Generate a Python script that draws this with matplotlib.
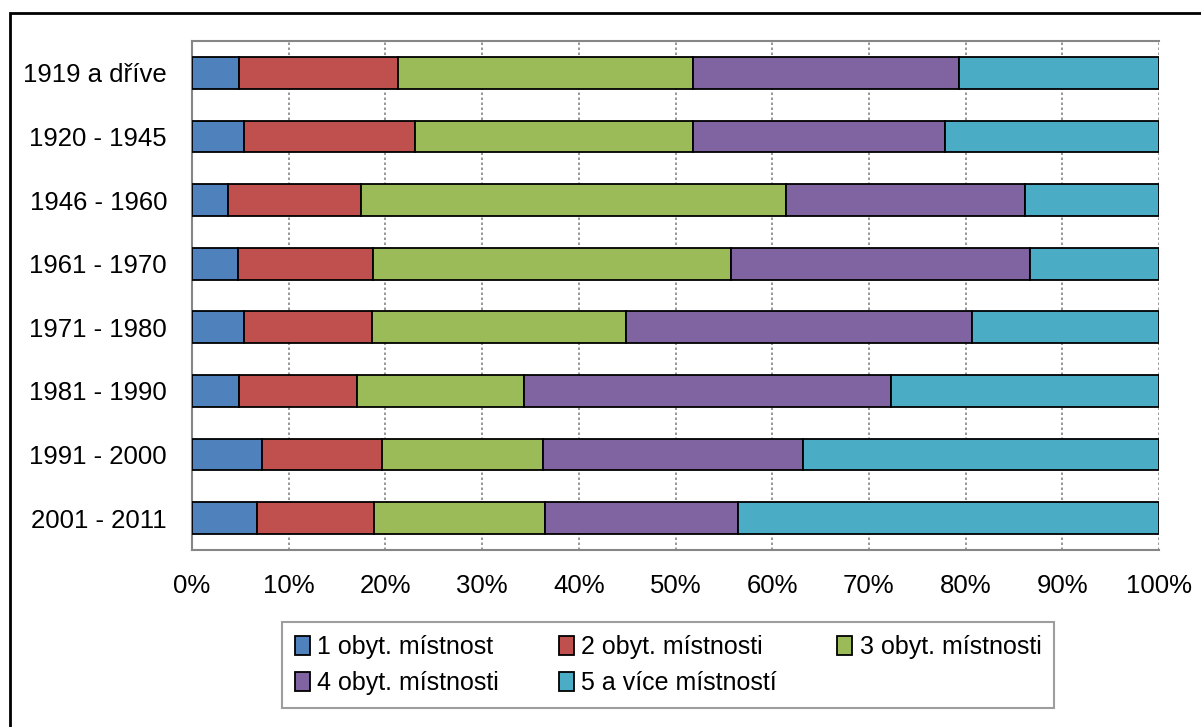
import matplotlib.pyplot as plt
from matplotlib.patches import Rectangle
import numpy as np

plt.rcParams['font.family'] = ['Liberation Sans', 'DejaVu Sans']

# období výstavby (shora dolů)
obdobi = ["1919 a dříve", "1920 - 1945", "1946 - 1960", "1961 - 1970",
          "1971 - 1980", "1981 - 1990", "1991 - 2000", "2001 - 2011"]

# podíly bytů podle počtu obytných místností (%)
m1 = [4.9, 5.4, 3.7, 4.8, 5.4, 4.9, 7.2, 6.7]
m2 = [16.4, 17.7, 13.8, 13.9, 13.2, 12.2, 12.4, 12.1]
m3 = [30.5, 28.7, 43.9, 37.0, 26.3, 17.2, 16.7, 17.7]
m4 = [27.5, 26.1, 24.7, 31.0, 35.8, 38.0, 26.9, 20.0]
m5 = [20.7, 22.1, 13.9, 13.3, 19.3, 27.7, 36.8, 43.5]

serie = [m1, m2, m3, m4, m5]
nazvy = ["1 obyt. místnost", "2 obyt. místnosti", "3 obyt. místnosti",
         "4 obyt. místnosti", "5 a více místností"]
barvy = ["#4F81BD", "#C0504D", "#9BBB59", "#8064A2", "#4BACC6"]

fig = plt.figure(figsize=(12.01, 7.27), dpi=100)
ax = fig.add_axes([192 / 1201, 1 - 550 / 727, (1159 - 192) / 1201, (550 - 41) / 727])

y = np.arange(len(obdobi))
left = np.zeros(len(obdobi))
handles = []
for vals, name, col in zip(serie, nazvy, barvy):
    vals = np.array(vals)
    b = ax.barh(y, vals, left=left, height=0.5, color=col,
                edgecolor="black", linewidth=1.3, label=name, zorder=3)
    handles.append(b)
    left += vals

ax.set_xlim(0, 100)
ax.set_ylim(len(obdobi) - 0.5, -0.5)
ax.set_yticks(y)
ax.set_yticklabels(obdobi, fontsize=18.5)
ax.set_xticks(np.arange(0, 101, 10))
ax.set_xticklabels([f"{v}%" for v in range(0, 101, 10)], fontsize=18.5)
ax.tick_params(axis="y", length=0, pad=18)
ax.tick_params(axis="x", length=0, pad=17)
ax.xaxis.grid(True, linestyle=(0, (1.5, 1.5)), color="#868686", linewidth=1.2, zorder=0)

for s in ["top", "left", "bottom"]:
    ax.spines[s].set_color("#868686")
    ax.spines[s].set_linewidth(1.5)
ax.spines["right"].set_visible(False)

# legenda po řádcích
order = [0, 3, 1, 4, 2]
leg = fig.legend([handles[i] for i in order], [nazvy[i] for i in order],
                 ncol=3, loc="center", bbox_to_anchor=(668 / 1201, 1 - 665 / 727),
                 fontsize=18, frameon=True, fancybox=False, edgecolor="#868686",
                 handlelength=0.6, handleheight=0.8, handletextpad=0.3,
                 columnspacing=2.4, borderpad=0.5, labelspacing=0.5)
leg.get_frame().set_linewidth(1.5)

# rámeček grafu
fig.patches.append(Rectangle((10 / 1201, -0.1), 1.2, (1 - 13 / 727) + 0.1,
                             transform=fig.transFigure, fill=False,
                             edgecolor="black", linewidth=2))

fig.savefig("out.png", dpi=100)
